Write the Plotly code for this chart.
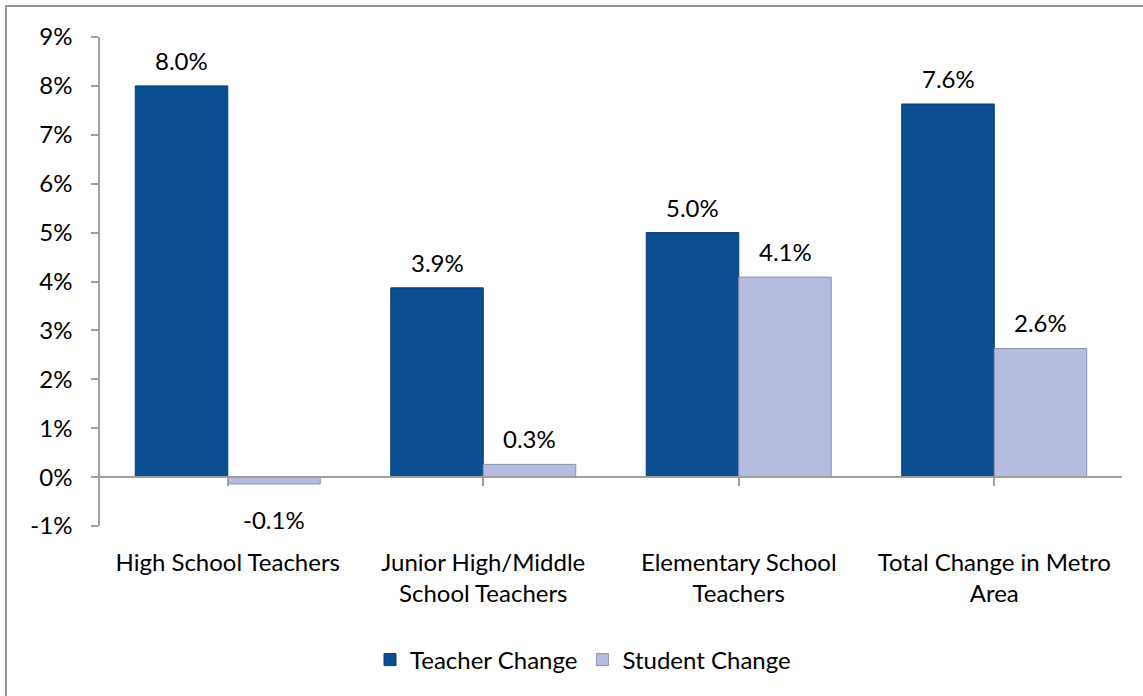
import plotly.graph_objects as go

categories = ["High School Teachers", "Junior High/Middle<br>School Teachers",
              "Elementary School<br>Teachers", "Total Change in Metro<br>Area"]
teacher_change = [8.0, 3.87, 5.0, 7.63]
student_change = [-0.14, 0.26, 4.09, 2.63]
series_names = ["Teacher Change", "Student Change"]
y_ticks = list(range(-1, 10))

W, H = 1143, 696
ML, MR, MT, MB = 100, 21, 37, 170
FONT = "Lato, 'Open Sans', sans-serif"
FS = 24
teacher_color = "#0B4E92"
student_color = "#B6BCE0"
BARGAP = 0.276

fig = go.Figure()
fig.add_trace(go.Bar(
    x=list(range(len(categories))), y=teacher_change, name=series_names[0],
    marker=dict(color=teacher_color, line=dict(color="#083A6E", width=1)),
))
fig.add_trace(go.Bar(
    x=list(range(len(categories))), y=student_change, name=series_names[1],
    marker=dict(color=student_color, line=dict(color="#8C91B2", width=1)),
))

# data labels
bw = (1 - BARGAP) / 2
for vals, off in ((teacher_change, -bw / 2), (student_change, bw / 2)):
    for i, v in enumerate(vals):
        pos = v >= 0
        fig.add_annotation(
            x=i + off, y=v, xref="x", yref="y", text=f"{v:.1f}%",
            showarrow=False, yanchor="bottom" if pos else "top",
            yshift=9 if pos else -19,
            font=dict(family=FONT, size=FS, color="#000000"),
        )

ymin, ymax = -1, 9
plot_h = H - MT - MB
plot_w = W - ML - MR

# outer chart border
fig.add_shape(
    type="rect", xref="paper", yref="paper",
    x0=(6 - ML) / plot_w, x1=(W + 10 - ML) / plot_w,
    y0=-(H + 10 - MT - plot_h) / plot_h, y1=(plot_h + MT - 6) / plot_h,
    line=dict(color="#969696", width=2), fillcolor="rgba(0,0,0,0)", layer="below",
)

fig.update_layout(
    width=W, height=H,
    margin=dict(l=ML, r=MR, t=MT, b=MB),
    paper_bgcolor="white", plot_bgcolor="white",
    barmode="group", bargap=BARGAP, bargroupgap=0,
    font=dict(family=FONT, size=FS, color="#000000"),
    showlegend=True,
    legend=dict(
        orientation="h", x=(583 - ML) / plot_w, xanchor="center",
        y=-(660 - MT - plot_h) / plot_h, yanchor="middle",
        font=dict(family=FONT, size=FS, color="#000000"),
        itemwidth=30, tracegroupgap=0,
    ),
    xaxis=dict(
        range=[-0.5, len(categories) - 0.5],
        tickmode="array", tickvals=list(range(len(categories))), ticktext=categories,
        showline=True, linecolor="#A0A0A0", linewidth=1.5,
        ticks="outside", tickson="boundaries", ticklen=8, tickcolor="#A0A0A0", tickwidth=1.5,
        anchor="free", position=(0 - ymin) / (ymax - ymin),
        ticklabelstandoff=56,
        showgrid=False, zeroline=False,
        tickfont=dict(family=FONT, size=FS, color="#000000"),
    ),
    yaxis=dict(
        range=[ymin, ymax], tickmode="array", tickvals=y_ticks,
        ticktext=[f"{t}%" for t in y_ticks],
        showline=True, linecolor="#A0A0A0", linewidth=1.5,
        ticks="outside", ticklen=7, tickcolor="#A0A0A0", tickwidth=1.5,
        showgrid=False, zeroline=False, ticklabelstandoff=14,
        tickfont=dict(family=FONT, size=FS, color="#000000"),
    ),
)

fig.write_html("out.html")
